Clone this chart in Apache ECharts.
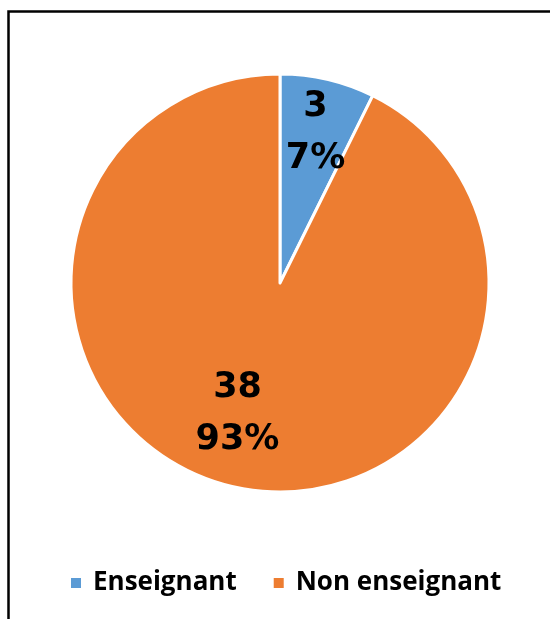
<!DOCTYPE html>
<html>
<head>
<meta charset="utf-8">
<script src="https://cdn.jsdelivr.net/npm/echarts@6/dist/echarts.min.js"></script>
<style>html,body{margin:0;padding:0;background:#fff}#c{width:550px;height:619px}</style>
</head>
<body>
<div id="c"></div>
<script>
var categories = ['Enseignant', 'Non enseignant'];
var values = [3, 38];
var colors = ['#5B9BD5', '#ED7D31'];
var labelOffsets = [[11, -45], [-18, 26]];

var chart = echarts.init(document.getElementById('c'));
chart.setOption({
  animation: false,
  graphic: [{
    type: 'rect', left: 6, top: 9,
    shape: { width: 600, height: 700 },
    style: { fill: 'none', stroke: '#000', lineWidth: 2.5 },
    z: 100, silent: true
  }],
  legend: {
    data: categories,
    left: 64, top: 565,
    icon: 'rect', itemWidth: 12, itemHeight: 12, itemGap: 35,
    textStyle: { fontFamily: 'Open Sans', fontWeight: 'bold', fontSize: 26, color: '#000', padding: [0, 0, 0, 6] }
  },
  series: [{
    type: 'pie',
    center: [280, 283],
    radius: [0, 209],
    startAngle: 90,
    clockwise: true,
    itemStyle: { borderColor: '#fff', borderWidth: 3 },
    label: {
      show: true, position: 'inside',
      fontFamily: 'DejaVu Sans', fontWeight: 'bold', fontSize: 35,
      lineHeight: 52, color: '#000',
      formatter: function (p) { return p.value + '\n' + Math.round(p.percent) + '%'; }
    },
    labelLine: { show: false },
    emphasis: { disabled: true },
    data: categories.map(function (n, i) {
      return { name: n, value: values[i], itemStyle: { color: colors[i] }, label: { offset: labelOffsets[i] } };
    })
  }]
});
</script>
</body>
</html>
